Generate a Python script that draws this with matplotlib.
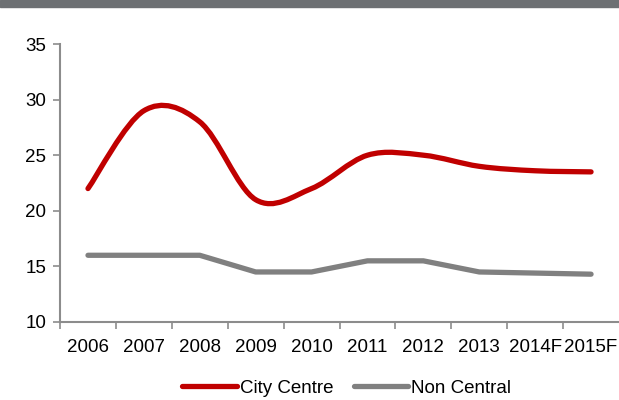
import matplotlib
matplotlib.use("Agg")
import numpy as np
import matplotlib.pyplot as plt
from matplotlib.path import Path
from matplotlib.patches import PathPatch, Rectangle
from matplotlib.lines import Line2D

years = ['2006', '2007', '2008', '2009', '2010', '2011', '2012', '2013', '2014F', '2015F']
city_centre = [22.0, 29.0, 28.0, 21.0, 22.0, 25.0, 25.0, 24.0, 23.6, 23.5]
non_central = [16.0, 16.0, 16.0, 14.5, 14.5, 15.5, 15.5, 14.5, 14.4, 14.3]

RED = '#c00000'
GREY = '#808080'
AXIS = '#8c8c8c'
FS = 13.5

plt.rcParams['font.family'] = ['Liberation Sans', 'DejaVu Sans']


def smooth_path(x, y):
    # excel-style smoothed line: cubic bezier through every point
    pts = np.column_stack([x, y]).astype(float)
    n = len(pts)
    verts = [pts[0]]
    codes = [Path.MOVETO]
    for i in range(n - 1):
        p0 = pts[i - 1] if i > 0 else pts[i]
        p1 = pts[i]
        p2 = pts[i + 1]
        p3 = pts[i + 2] if i + 2 < n else pts[i + 1]
        c1 = p1 + (p2 - p0) / 6
        c2 = p2 - (p3 - p1) / 6
        verts += [c1, c2, p2]
        codes += [Path.CURVE4] * 3
    return Path(verts, codes)


fig = plt.figure(figsize=(6.19, 4.0), dpi=100)
ax = fig.add_axes([0.097, 0.195, 0.903, 0.695])

x = np.arange(len(years))
ax.add_patch(PathPatch(smooth_path(x, city_centre), fill=False, edgecolor=RED,
                       lw=3.8, capstyle='round', joinstyle='round'))
ax.plot(x, non_central, color=GREY, lw=3.8, solid_capstyle='round', solid_joinstyle='round')

ax.set_xlim(-0.5, len(years) - 0.5)
ax.set_ylim(10, 35)
ax.set_yticks([10, 15, 20, 25, 30, 35])
ax.set_xticks(x)
ax.set_xticklabels(years)
ax.set_xticks(np.arange(len(years)) - 0.5, minor=True)
ax.tick_params(axis='x', which='major', length=0, pad=12, labelsize=FS)
ax.tick_params(axis='x', which='minor', length=5, width=1.2, color=AXIS)
ax.tick_params(axis='y', length=5, width=1.2, color=AXIS, labelsize=FS, pad=5)

for s in ['top', 'right']:
    ax.spines[s].set_visible(False)
for s in ['left', 'bottom']:
    ax.spines[s].set_color(AXIS)
    ax.spines[s].set_linewidth(1.5)

handles = [Line2D([], [], color=RED, lw=3.8, solid_capstyle='round'),
           Line2D([], [], color=GREY, lw=3.8, solid_capstyle='round')]
fig.legend(handles, ['City Centre', 'Non Central'], loc='center', bbox_to_anchor=(0.56, 0.03),
           ncol=2, frameon=False, fontsize=FS, handlelength=2.9, handletextpad=0.15,
           columnspacing=1.1, borderpad=0)

# grey header band at the very top
fig.patches.append(Rectangle((0, 0.983), 1, 0.017, transform=fig.transFigure,
                             color='#6d7073', zorder=0))

fig.savefig('out.png', dpi=100)
